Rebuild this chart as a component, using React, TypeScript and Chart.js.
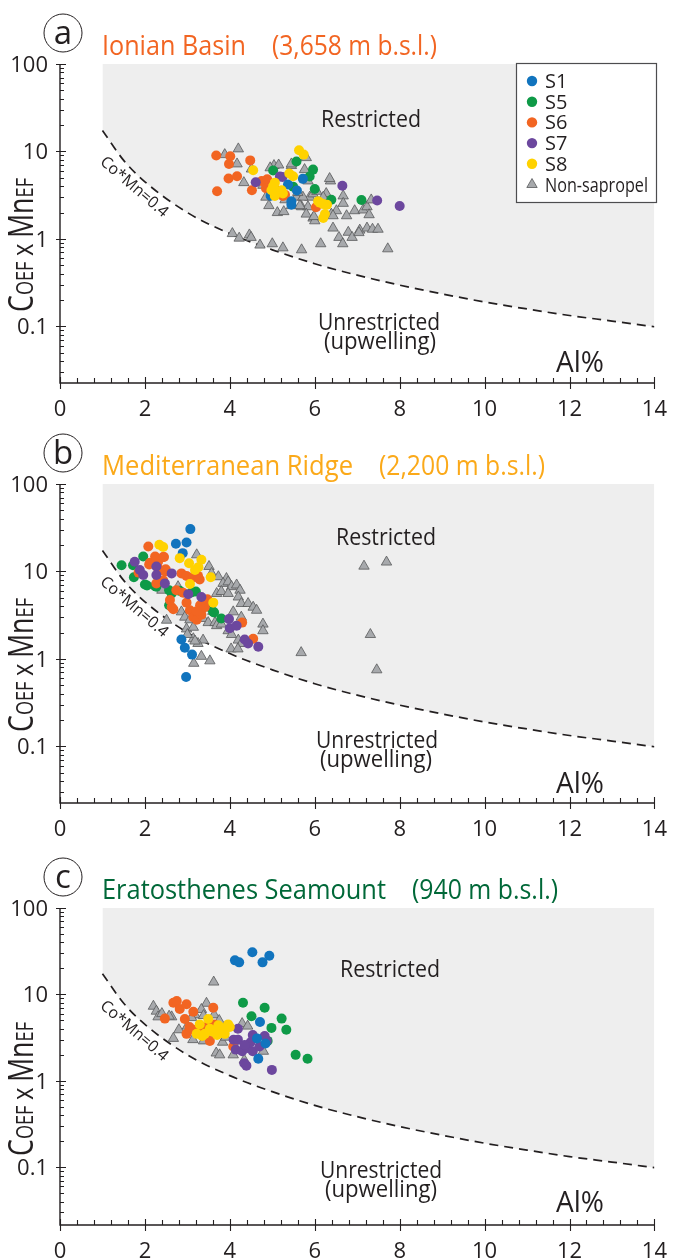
import React, { useEffect, useRef } from 'react';
import { Chart, registerables } from 'chart.js';

Chart.register(...registerables);

const FONT = "'Open Sans', 'DejaVu Sans', sans-serif";
const INK = '#231F20';

// ---------- axes ----------
const X_MIN = 0;
const X_MAX = 14;
const X_TICK_STEP = 2;
const Y_MAX = 100;
const Y_TICKS = [0.1, 1, 10, 100];
const Y_TICK_LABELS = ['0.1', '1', '10', '100'];

// ---------- Co*Mn = 0.4 boundary ----------
const BOUNDARY_X = [1, 1.5, 2, 3, 4, 5, 6, 7, 8, 9, 10, 11, 12, 13, 14];
const BOUNDARY_Y = [17.4, 7.9, 4.5, 2.0, 1.15, 0.75, 0.52, 0.385, 0.296, 0.235, 0.19, 0.158, 0.133, 0.115, 0.099];

// ---------- series ----------
const SERIES_NAMES = ['S1', 'S5', 'S6', 'S7', 'S8', 'Non-sapropel'];
const SERIES_COLORS = ['#1174BE', '#0E9A47', '#F26522', '#6C479E', '#FFD200', '#A7A9AC'];

// (a) Ionian Basin
const ionianS1 = [[5.72, 4.86], [5.37, 4.18], [5.58, 3.57], [4.96, 3.12], [5.45, 2.69], [5.45, 2.46]];
const ionianS5 = [[5.57, 7.67], [5.02, 6.05], [5.96, 6.2], [5.88, 5.16], [5.49, 3.96], [6.0, 3.72], [6.39, 2.8], [7.1, 2.78]];
const ionianS6 = [[3.68, 9.0], [4.01, 8.8], [3.98, 7.2], [4.48, 7.9], [3.97, 4.9], [4.17, 5.2], [3.7, 3.5], [4.52, 3.6], [4.75, 4.6], [4.88, 4.8], [4.85, 3.8], [5.2, 3.3], [5.25, 3.1], [5.0, 4.1], [5.1, 3.6], [6.03, 2.3], [5.3, 3.2]];
const ionianS7 = [[4.61, 4.44], [5.18, 5.16], [5.24, 5.1], [6.65, 4.06], [7.47, 2.75], [8.0, 2.38]];
const ionianS8 = [[5.63, 10.3], [5.74, 9.2], [4.55, 6.1], [5.4, 5.6], [5.49, 5.2], [5.06, 4.4], [4.98, 3.6], [5.1, 3.5], [5.22, 3.6], [5.25, 3.3], [5.06, 3.1], [5.02, 4.0], [6.08, 2.7], [6.2, 2.5], [6.29, 2.46], [6.12, 2.6], [6.24, 1.92], [6.2, 1.73]];
const ionianNon = [[4.2, 10.7], [3.88, 9.2], [4.17, 7.2], [4.33, 4.4], [4.51, 6.3], [5.04, 6.9], [5.15, 7.0], [5.45, 6.9], [5.8, 8.5], [5.76, 6.2], [5.45, 7.2], [5.84, 4.6], [6.37, 4.6], [6.27, 3.3], [6.67, 3.1], [6.67, 2.55], [6.51, 2.1], [6.75, 1.84], [6.94, 2.1], [7.14, 2.14], [7.23, 2.33], [7.33, 2.79], [7.28, 1.89], [5.57, 3.0], [5.69, 2.33], [5.84, 2.33], [5.88, 3.0], [5.96, 3.27], [5.72, 3.0], [5.8, 1.92], [5.96, 1.73], [6.0, 1.61], [6.39, 1.92], [6.43, 1.84], [6.43, 1.33], [7.06, 1.26], [7.23, 1.33], [7.36, 1.29], [7.49, 1.29], [4.06, 1.15], [4.22, 1.02], [4.46, 1.11], [4.5, 1.04], [4.71, 0.85], [5.0, 0.88], [5.25, 0.79], [5.69, 0.75], [6.14, 0.88], [6.57, 1.04], [6.66, 0.88], [6.79, 1.19], [6.88, 1.04], [7.04, 1.18], [7.72, 0.77], [4.85, 3.0], [4.92, 2.4], [5.12, 2.0], [5.27, 2.05], [5.45, 2.4], [5.65, 2.4], [5.98, 1.8], [5.3, 2.8], [4.78, 4.1], [6.05, 3.5], [6.2, 3.0], [6.35, 4.9], [4.95, 6.5], [5.6, 3.4]];

// (b) Mediterranean Ridge
const ridgeS1 = [[3.07, 30.5], [2.73, 20.7], [2.98, 21.4], [2.89, 16.2], [2.86, 1.67], [2.94, 1.34], [3.11, 1.12], [2.97, 0.62]];
const ridgeS5 = [[1.45, 11.8], [1.72, 11.8], [1.96, 14.8], [1.74, 8.6], [2.0, 7.1], [2.05, 6.9], [2.24, 6.8], [2.27, 6.7], [2.57, 6.1], [2.63, 5.6], [2.57, 4.1], [2.82, 6.0], [3.11, 5.8], [3.53, 3.9], [3.61, 3.45], [3.63, 3.4], [3.8, 2.9], [3.2, 5.9]];
const ridgeS6 = [[2.08, 19.3], [2.24, 14.8], [2.45, 14.6], [2.12, 12.6], [2.31, 12.9], [2.27, 13.6], [2.43, 14.6], [2.31, 10.9], [2.47, 10.0], [2.49, 10.6], [2.86, 9.5], [2.98, 8.9], [3.14, 8.6], [3.25, 8.9], [3.29, 8.1], [2.27, 7.3], [2.43, 7.9], [2.74, 6.1], [2.9, 5.7], [2.59, 4.7], [2.63, 3.9], [2.67, 3.7], [2.98, 4.4], [3.06, 3.6], [3.14, 3.0], [3.22, 2.8], [3.33, 3.2], [3.41, 3.9], [3.47, 4.8], [3.3, 4.1], [3.22, 3.5], [4.29, 2.6], [4.55, 1.7], [1.85, 9.7], [2.1, 12.0]];
const ridgeS7 = [[1.76, 12.9], [1.88, 10.4], [1.96, 9.1], [2.27, 11.4], [2.27, 9.1], [2.63, 9.5], [2.47, 7.3], [3.02, 5.5], [3.33, 5.1], [3.98, 2.85], [4.0, 2.24], [4.16, 2.4], [4.35, 1.67], [4.43, 1.5], [4.67, 1.38]];
const ridgeS8 = [[2.34, 20.2], [2.43, 19.0], [2.82, 14.2], [3.04, 12.4], [3.18, 10.4], [3.26, 11.2], [3.33, 13.6], [3.55, 8.6], [3.06, 7.2], [3.61, 4.4]];
const ridgeNon = [[3.22, 15.5], [3.51, 11.4], [3.57, 9.5], [3.73, 8.7], [3.92, 8.3], [3.84, 7.3], [3.96, 7.6], [4.04, 6.7], [4.16, 7.0], [4.24, 6.1], [3.69, 5.6], [3.8, 5.9], [3.96, 5.6], [4.2, 5.1], [4.27, 4.3], [4.43, 4.3], [4.55, 3.9], [4.63, 3.6], [4.08, 3.45], [4.27, 3.0], [4.78, 2.5], [4.78, 2.1], [2.86, 3.45], [2.94, 3.0], [3.06, 2.8], [3.37, 2.9], [3.49, 2.6], [3.65, 2.6], [3.69, 2.4], [3.8, 2.5], [2.98, 2.2], [3.14, 2.3], [3.14, 1.7], [3.37, 1.64], [3.25, 1.5], [3.96, 2.1], [4.04, 1.9], [2.51, 2.77], [4.2, 1.64], [4.27, 1.5], [3.18, 1.6], [3.33, 1.07], [3.53, 0.95], [3.15, 0.89], [4.03, 1.3], [4.19, 1.3], [2.4, 6.1], [2.78, 6.7], [3.0, 1.9], [3.45, 4.5], [3.6, 3.5], [3.3, 3.7], [7.16, 11.5], [7.69, 12.8], [7.31, 1.9], [7.46, 0.75], [5.68, 1.18]];

// (c) Eratosthenes Seamount
const seamountS1 = [[4.12, 24.8], [4.22, 23.5], [4.53, 30.7], [4.77, 23.5], [4.93, 28.0], [4.71, 4.8], [4.64, 3.1], [4.84, 2.7], [4.67, 1.8]];
const seamountS5 = [[4.31, 8.0], [4.82, 7.0], [4.51, 5.6], [5.22, 5.25], [4.98, 4.1], [5.33, 3.9], [4.89, 2.9], [5.55, 2.0], [5.83, 1.8]];
const seamountS6 = [[2.67, 8.0], [2.75, 8.4], [2.82, 6.8], [2.98, 7.7], [3.14, 6.3], [2.47, 5.25], [2.94, 5.2], [3.61, 7.0], [2.98, 3.5], [3.13, 3.9], [3.53, 2.9], [3.33, 3.9], [3.63, 4.5], [4.08, 2.5], [3.05, 4.2], [3.45, 4.2]];
const seamountS7 = [[4.19, 4.0], [4.09, 3.0], [4.19, 3.0], [4.54, 3.4], [4.56, 3.1], [4.82, 3.3], [4.87, 2.9], [4.14, 2.3], [4.29, 2.2], [4.42, 2.4], [4.54, 2.2], [4.34, 1.6], [4.39, 1.5], [4.99, 1.34], [4.49, 2.8], [4.7, 2.5], [4.35, 2.6]];
const seamountS8 = [[3.29, 4.5], [3.49, 5.2], [3.53, 4.0], [3.73, 4.4], [3.8, 3.6], [3.96, 4.5], [3.88, 3.5], [3.41, 3.5], [3.22, 3.5], [3.6, 3.7], [3.7, 3.4], [3.93, 4.2], [3.35, 3.3], [4.0, 4.2]];
const seamountNon = [[3.62, 13.9], [2.2, 7.3], [2.27, 6.4], [2.31, 5.5], [2.63, 5.5], [2.57, 5.6], [2.67, 3.1], [2.8, 3.9], [3.45, 7.9], [3.33, 6.7], [3.18, 5.8], [3.38, 5.7], [3.63, 5.8], [3.13, 3.0], [3.38, 2.9], [3.68, 2.1], [3.76, 2.0], [3.83, 2.8], [4.08, 2.0], [4.29, 4.6], [4.42, 4.3], [4.34, 1.74], [4.79, 2.2], [3.1, 5.4], [3.0, 4.3], [3.5, 3.3], [3.9, 3.2], [4.2, 2.9], [2.4, 6.0], [3.75, 5.0]];

type Pt = number[];
interface PanelSpec {
  letter: string;
  name: string;
  depth: string;
  color: string;
  nameW: number;
  depthX: number;
  depthW: number;
  top: number;
  height: number;
  axisY: number;
  yMin: number;
  series: Pt[][];
  legend: boolean;
  restricted: number[];
  unres: number[];
  upw: number[];
  al: number[];
}

const PANELS: PanelSpec[] = [
  {
    letter: 'a', name: 'Ionian Basin', depth: '(3,658 m b.s.l.)', color: '#F26522',
    nameW: 144, depthX: 272, depthW: 165, top: 0, height: 420, axisY: 383, yMin: 0.0225,
    series: [ionianS1, ionianS5, ionianS6, ionianS7, ionianS8, ionianNon], legend: true,
    restricted: [371, 127], unres: [379, 330], upw: [380, 349], al: [580, 372],
  },
  {
    letter: 'b', name: 'Mediterranean Ridge', depth: '(2,200 m b.s.l.)', color: '#FBA919',
    nameW: 251, depthX: 379, depthW: 166, top: 420, height: 420, axisY: 383, yMin: 0.0225,
    series: [ridgeS1, ridgeS5, ridgeS6, ridgeS7, ridgeS8, ridgeNon], legend: false,
    restricted: [386, 125], unres: [377, 328], upw: [376, 347], al: [580, 373],
  },
  {
    letter: 'c', name: 'Eratosthenes Seamount', depth: '(940 m b.s.l.)', color: '#006838',
    nameW: 284, depthX: 412, depthW: 146, top: 844, height: 416, axisY: 381, yMin: 0.0215,
    series: [seamountS1, seamountS5, seamountS6, seamountS7, seamountS8, seamountNon], legend: false,
    restricted: [390, 133], unres: [381, 334], upw: [381, 353], al: [580, 368],
  },
];

const SERIES_ORDER = [2, 5, 4, 3, 1, 6];

function txt(ctx: CanvasRenderingContext2D, s: string, x: number, y: number, size: number, color: string, align: CanvasTextAlign = 'center', maxW?: number, weight = 400) {
  ctx.font = `${weight} ${size}px ${FONT}`;
  ctx.fillStyle = color;
  ctx.textAlign = align;
  ctx.textBaseline = 'alphabetic';
  if (maxW) ctx.fillText(s, x, y, maxW);
  else ctx.fillText(s, x, y);
}

function drawYLabel(ctx: CanvasRenderingContext2D, cx: number, cy: number, len: number) {
  const parts = [
    { t: 'C', s: 34, gap: 0 }, { t: 'OEF', s: 23, gap: 7 }, { t: 'x', s: 30, gap: 7 }, { t: 'M', s: 34, gap: 0 }, { t: 'n', s: 34, gap: 0 }, { t: 'EF', s: 23, gap: 0 },
  ];
  let w = 0;
  const widths = parts.map((p) => {
    ctx.font = `500 ${p.s}px ${FONT}`;
    const m = ctx.measureText(p.t).width + p.gap;
    w += m;
    return m;
  });
  ctx.save();
  ctx.translate(cx, cy);
  ctx.rotate(-Math.PI / 2);
  ctx.scale(len / w, 1);
  ctx.fillStyle = INK;
  ctx.textBaseline = 'alphabetic';
  ctx.textAlign = 'left';
  let x = -w / 2;
  parts.forEach((p, i) => {
    ctx.font = `500 ${p.s}px ${FONT}`;
    ctx.fillText(p.t, x, 0);
    x += widths[i];
  });
  ctx.restore();
}

function drawLegend(ctx: CanvasRenderingContext2D) {
  const x0 = 516, y0 = 63, w = 140, h = 139;
  ctx.fillStyle = '#FFFFFF';
  ctx.fillRect(x0, y0, w, h);
  ctx.strokeStyle = '#4D4D4F';
  ctx.lineWidth = 1.2;
  ctx.strokeRect(x0 + 0.5, y0 + 0.5, w, h);
  SERIES_NAMES.forEach((name, i) => {
    const cy = 81 + i * 20.7;
    ctx.beginPath();
    if (i < 5) {
      ctx.arc(532, cy, 5.2, 0, Math.PI * 2);
      ctx.fillStyle = SERIES_COLORS[i];
      ctx.fill();
    } else {
      const r = 6;
      ctx.moveTo(532, cy - r);
      ctx.lineTo(532 + r * 0.866, cy + r * 0.5);
      ctx.lineTo(532 - r * 0.866, cy + r * 0.5);
      ctx.closePath();
      ctx.fillStyle = SERIES_COLORS[5];
      ctx.fill();
      ctx.strokeStyle = '#58595B';
      ctx.lineWidth = 0.8;
      ctx.stroke();
    }
    txt(ctx, name, 545, cy + 7, 20, INK, 'left', i === 5 ? 103 : undefined);
  });
}

function makeDecor(p: PanelSpec) {
  return {
    id: 'decor' + p.letter,
    afterDraw(chart: any) {
      const ctx: CanvasRenderingContext2D = chart.ctx;
      const xs = chart.scales.x;
      const ys = chart.scales.y;
      const bottom = chart.chartArea.bottom;
      const left = xs.getPixelForValue(X_MIN);
      const right = xs.getPixelForValue(X_MAX);
      const top = ys.getPixelForValue(Y_MAX);
      ctx.save();
      // axes lines
      ctx.strokeStyle = INK;
      ctx.lineWidth = 1.4;
      ctx.beginPath();
      ctx.moveTo(left, top);
      ctx.lineTo(left, bottom);
      ctx.lineTo(right, bottom);
      ctx.stroke();
      // x ticks
      ctx.lineWidth = 1.1;
      ctx.beginPath();
      for (let i = 0; i <= 35; i++) {
        const v = i * 0.4;
        const px = Math.round(xs.getPixelForValue(v)) + 0.5;
        if (i % 5 === 0) {
          ctx.moveTo(px, bottom - 6);
          ctx.lineTo(px, bottom + 6);
        } else {
          ctx.moveTo(px, bottom);
          ctx.lineTo(px, bottom - 5);
        }
      }
      ctx.stroke();
      // y ticks
      ctx.beginPath();
      for (let n = -2; n <= 2; n++) {
        for (let k = 1; k <= 9; k++) {
          const v = k * Math.pow(10, n);
          if (v < p.yMin || v > Y_MAX * 1.0001) continue;
          const py = Math.round(ys.getPixelForValue(v)) + 0.5;
          if (k === 1) {
            ctx.moveTo(left - 4, py);
            ctx.lineTo(left + 6, py);
          } else {
            ctx.moveTo(left, py);
            ctx.lineTo(left + 4, py);
          }
        }
      }
      ctx.stroke();

      // y tick labels (from the log scale)
      Y_TICKS.forEach((v, i) => {
        const py = ys.getPixelForValue(v);
        txt(ctx, Y_TICK_LABELS[i], left - 12, py + 8, 22, INK, 'right');
      });

      // y axis title
      drawYLabel(ctx, 33, 245, 134);

      // panel letter in circle
      ctx.beginPath();
      ctx.arc(63, 33, 19, 0, Math.PI * 2);
      ctx.fillStyle = '#FFFFFF';
      ctx.fill();
      ctx.strokeStyle = INK;
      ctx.lineWidth = 1;
      ctx.stroke();
      txt(ctx, p.letter, 63, 44, 33, INK, 'center');

      // title
      txt(ctx, p.name, 102, 55, 27, p.color, 'left', p.nameW);
      txt(ctx, p.depth, p.depthX, 55, 27, p.color, 'left', p.depthW);

      // region labels
      txt(ctx, 'Restricted', p.restricted[0], p.restricted[1], 23, INK, 'center', 100);
      txt(ctx, 'Unrestricted', p.unres[0], p.unres[1], 23, INK, 'center', 122);
      txt(ctx, '(upwelling)', p.upw[0], p.upw[1], 23, INK, 'center', 112);
      txt(ctx, 'Al%', p.al[0], p.al[1], 29, INK, 'center', 48);

      // boundary label
      ctx.save();
      ctx.translate(135, 186);
      ctx.rotate((40.5 * Math.PI) / 180);
      txt(ctx, 'Co*Mn=0.4', 0, 6, 16, INK, 'center', 84);
      ctx.restore();

      if (p.legend) drawLegend(ctx);
      ctx.restore();
    },
  };
}

function Panel({ p }: { p: PanelSpec }) {
  const ref = useRef<HTMLCanvasElement | null>(null);
  useEffect(() => {
    if (!ref.current) return;
    const datasets: any[] = p.series.map((arr, i) => ({
      label: SERIES_NAMES[i],
      data: arr.map((d) => ({ x: d[0], y: d[1] })),
      pointStyle: i === 5 ? 'triangle' : 'circle',
      pointRadius: i === 5 ? 6 : 5,
      backgroundColor: SERIES_COLORS[i],
      borderColor: i === 5 ? '#58595B' : SERIES_COLORS[i],
      borderWidth: i === 5 ? 0.8 : 0,
      order: SERIES_ORDER[i],
    }));
    datasets.push({
      type: 'line',
      label: 'Co*Mn=0.4',
      data: BOUNDARY_X.map((x, i) => ({ x, y: BOUNDARY_Y[i] })),
      borderColor: INK,
      borderWidth: 1.7,
      borderDash: [9, 6],
      backgroundColor: '#EEEEEE',
      fill: 'end',
      pointRadius: 0,
      cubicInterpolationMode: 'monotone',
      order: 10,
    });
    const chart = new Chart(ref.current, {
      type: 'scatter',
      data: { datasets },
      options: {
        animation: false,
        responsive: false,
        devicePixelRatio: 1,
        events: [],
        layout: { padding: { top: 64, right: 17, left: 0, bottom: 0 } },
        plugins: { legend: { display: false }, tooltip: { enabled: false } },
        scales: {
          x: {
            type: 'linear',
            min: X_MIN,
            max: X_MAX,
            afterFit: (s: any) => { s.height = p.height - p.axisY; },
            grid: { display: false },
            border: { display: false },
            ticks: {
              stepSize: X_TICK_STEP,
              padding: 6,
              color: INK,
              font: { family: FONT, size: 22 },
              maxRotation: 0,
            },
          },
          y: {
            type: 'logarithmic',
            min: p.yMin,
            max: Y_MAX,
            afterFit: (s: any) => { s.width = 60; },
            afterBuildTicks: (s: any) => { s.ticks = Y_TICKS.map((v) => ({ value: v })); },
            grid: { display: false },
            border: { display: false },
            ticks: { display: false },
          },
        },
      },
      plugins: [makeDecor(p)],
    } as any);
    return () => chart.destroy();
  }, [p]);
  return (
    <canvas
      ref={ref}
      width={673}
      height={p.height}
      style={{ position: 'absolute', left: 0, top: p.top, width: 673, height: p.height }}
    />
  );
}

export default function App() {
  return (
    <div style={{ position: 'absolute', left: 0, top: 0, width: 673, height: 1260, background: '#FFFFFF', overflow: 'hidden' }}>
      {PANELS.map((p) => (
        <Panel key={p.letter} p={p} />
      ))}
    </div>
  );
}
